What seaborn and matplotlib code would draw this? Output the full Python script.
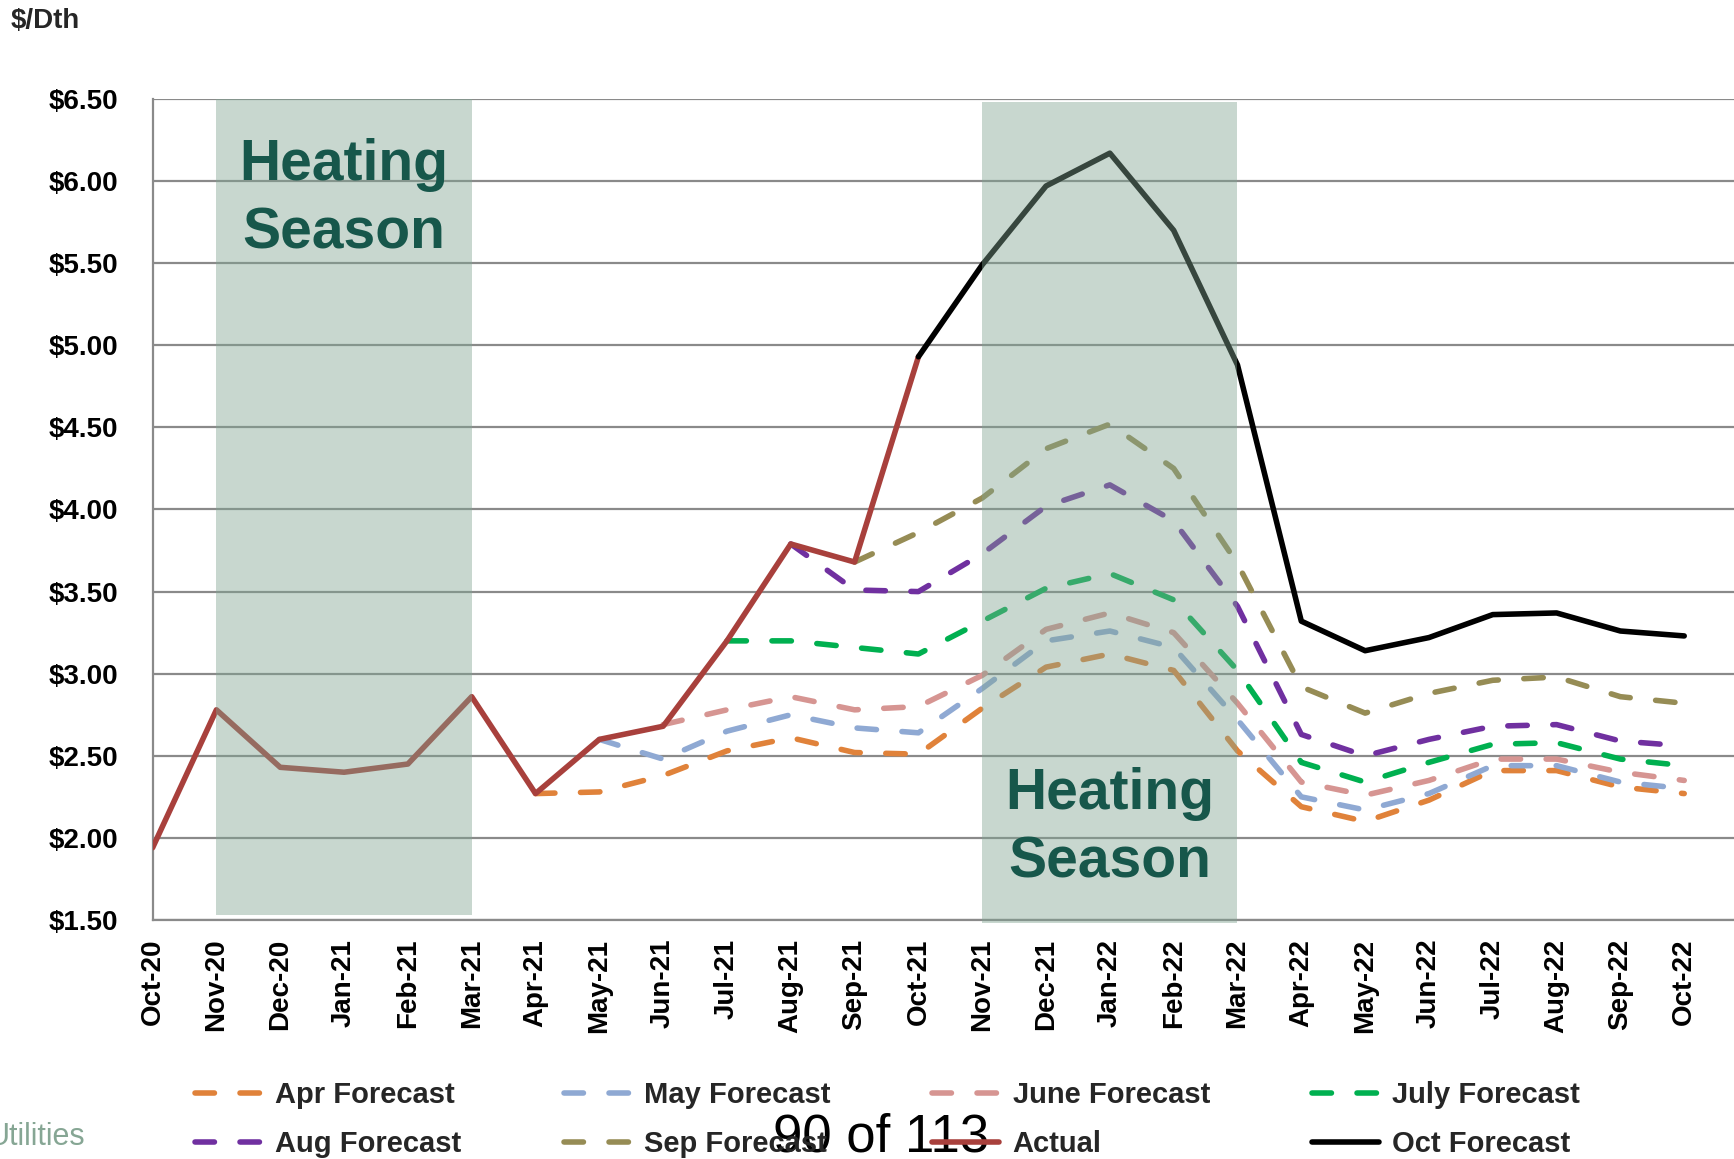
import numpy as np
import pandas as pd
import matplotlib
matplotlib.use("Agg")
import matplotlib.pyplot as plt
from matplotlib import font_manager
import seaborn as sns

months = ["Oct-20", "Nov-20", "Dec-20", "Jan-21", "Feb-21", "Mar-21", "Apr-21", "May-21",
          "Jun-21", "Jul-21", "Aug-21", "Sep-21", "Oct-21", "Nov-21", "Dec-21", "Jan-22",
          "Feb-22", "Mar-22", "Apr-22", "May-22", "Jun-22", "Jul-22", "Aug-22", "Sep-22", "Oct-22"]

# price in $/Dth, each series starts at the given month index
actual = [1.94, 2.78, 2.43, 2.40, 2.45, 2.86, 2.27, 2.60, 2.68, 3.20, 3.79, 3.68, 4.93]
apr_fc = [2.27, 2.28, 2.38, 2.53, 2.61, 2.52, 2.51, 2.79, 3.04, 3.12, 3.02, 2.53, 2.19, 2.10,
          2.23, 2.41, 2.41, 2.31, 2.27]
may_fc = [2.60, 2.48, 2.65, 2.75, 2.67, 2.64, 2.91, 3.20, 3.26, 3.16, 2.72, 2.25, 2.17, 2.27,
          2.44, 2.44, 2.34, 2.30]
jun_fc = [2.69, 2.78, 2.86, 2.78, 2.80, 2.99, 3.27, 3.37, 3.25, 2.82, 2.34, 2.26, 2.35, 2.48,
          2.48, 2.40, 2.35]
jul_fc = [3.20, 3.20, 3.16, 3.12, 3.32, 3.52, 3.61, 3.45, 3.02, 2.46, 2.34, 2.46, 2.57, 2.58,
          2.48, 2.44]
aug_fc = [3.79, 3.51, 3.50, 3.73, 4.02, 4.15, 3.93, 3.41, 2.63, 2.50, 2.60, 2.68, 2.69, 2.59, 2.56]
sep_fc = [3.68, 3.86, 4.07, 4.37, 4.52, 4.25, 3.67, 2.92, 2.76, 2.88, 2.96, 2.98, 2.86, 2.82]
oct_fc = [4.93, 5.49, 5.97, 6.17, 5.70, 4.88, 3.32, 3.14, 3.22, 3.36, 3.37, 3.26, 3.23]

series = [
    ("Apr Forecast", 6, apr_fc, "#E0823A", True),
    ("May Forecast", 7, may_fc, "#8FA9D3", True),
    ("June Forecast", 8, jun_fc, "#D69592", True),
    ("July Forecast", 9, jul_fc, "#00B050", True),
    ("Aug Forecast", 10, aug_fc, "#7030A0", True),
    ("Sep Forecast", 11, sep_fc, "#968C55", True),
    ("Actual", 0, actual, "#A8403C", False),
    ("Oct Forecast", 12, oct_fc, "#000000", False),
]

sns.set_theme(style="white")
names = {f.name for f in font_manager.fontManager.ttflist}
narrow = "Liberation Sans Narrow" in names
plt.rcParams["font.family"] = ["Liberation Sans", "DejaVu Sans"]
plt.rcParams["lines.dash_capstyle"] = "round"

fig = plt.figure(figsize=(17.34, 11.59), dpi=100)
ax = fig.add_axes([0.088, 0.2062, 0.912, 0.7084])

handles = {}
for name, start, vals, col, dashed in series:
    idx = np.arange(start, start + len(vals))
    df = pd.DataFrame({"month": idx, "price": vals})
    ls = (0, (3.5, 4.6)) if dashed else "-"
    sns.lineplot(data=df, x="month", y="price", ax=ax, color=col, lw=4,
                 linestyle=ls, label=name, zorder=3)
    handles[name] = ax.get_lines()[-1]
ax.get_legend().remove()

# heating season shading sits over the lines
shade = "#80A491"
ax.fill_between([1, 5], 1.53, 6.5, color=shade, alpha=0.43, lw=0, zorder=5, clip_on=False)
ax.fill_between([13, 17], 1.48, 6.48, color=shade, alpha=0.43, lw=0, zorder=5, clip_on=False)

hs_font = ["Liberation Sans Narrow", "Liberation Sans"] if narrow else ["Liberation Sans"]
hs_size = 48 if narrow else 41
ax.text(3, 5.89, "Heating\nSeason", ha="center", va="center", color="#17574B",
        fontsize=hs_size, fontweight="bold", family=hs_font, linespacing=1.35, zorder=6)
ax.text(15, 2.06, "Heating\nSeason", ha="center", va="center", color="#17574B",
        fontsize=hs_size, fontweight="bold", family=hs_font, linespacing=1.35, zorder=6)

ax.set_xlim(0, 24.78)
ax.set_ylim(1.5, 6.5)
ax.set_xticks(range(len(months)))
ax.set_xticklabels(months, rotation=90, fontsize=20, fontweight="bold")
yt = np.arange(1.5, 6.51, 0.5)
ax.set_yticks(yt)
ax.set_yticklabels(["${:.2f}".format(v) for v in yt], fontsize=20, fontweight="bold")
ax.set_xlabel("")
ax.set_ylabel("")
ax.yaxis.grid(True, color="#8A8A8A", lw=1.6)
ax.set_axisbelow(True)
for s in ["top", "right"]:
    ax.spines[s].set_visible(False)
for s in ["left", "bottom"]:
    ax.spines[s].set_color("#8A8A8A")
    ax.spines[s].set_linewidth(1.6)
ax.tick_params(axis="both", which="both", direction="out", length=6.5, width=1.6,
               color="#8A8A8A", colors="black")
ax.tick_params(axis="y", pad=18)
ax.tick_params(axis="x", pad=7)
ax.tick_params(axis="both", color="#8A8A8A")

fig.text(11 / 1734, 1 - 21 / 1159, "$/Dth", fontsize=20, fontweight="bold", va="center")

order = ["Apr Forecast", "Aug Forecast", "May Forecast", "Sep Forecast",
         "June Forecast", "Actual", "July Forecast", "Oct Forecast"]
fig.legend([handles[n] for n in order], order, loc="upper left",
           bbox_to_anchor=(195 / 1734, 1 - 1081 / 1159), ncol=4, frameon=False,
           prop={"size": 21, "weight": "bold"}, handlelength=2.3, handletextpad=0.45,
           columnspacing=3.5, labelspacing=0.72, borderpad=0, borderaxespad=0)

fig.text(85 / 1734, 1 - 1137 / 1159, "Utilities", ha="right", va="center",
         fontsize=22, color="#86A694")
fig.text(881 / 1734, 1 - 1138 / 1159, "90 of 113", ha="center", va="center",
         fontsize=38, color="black")

fig.savefig("out.png", dpi=100)
